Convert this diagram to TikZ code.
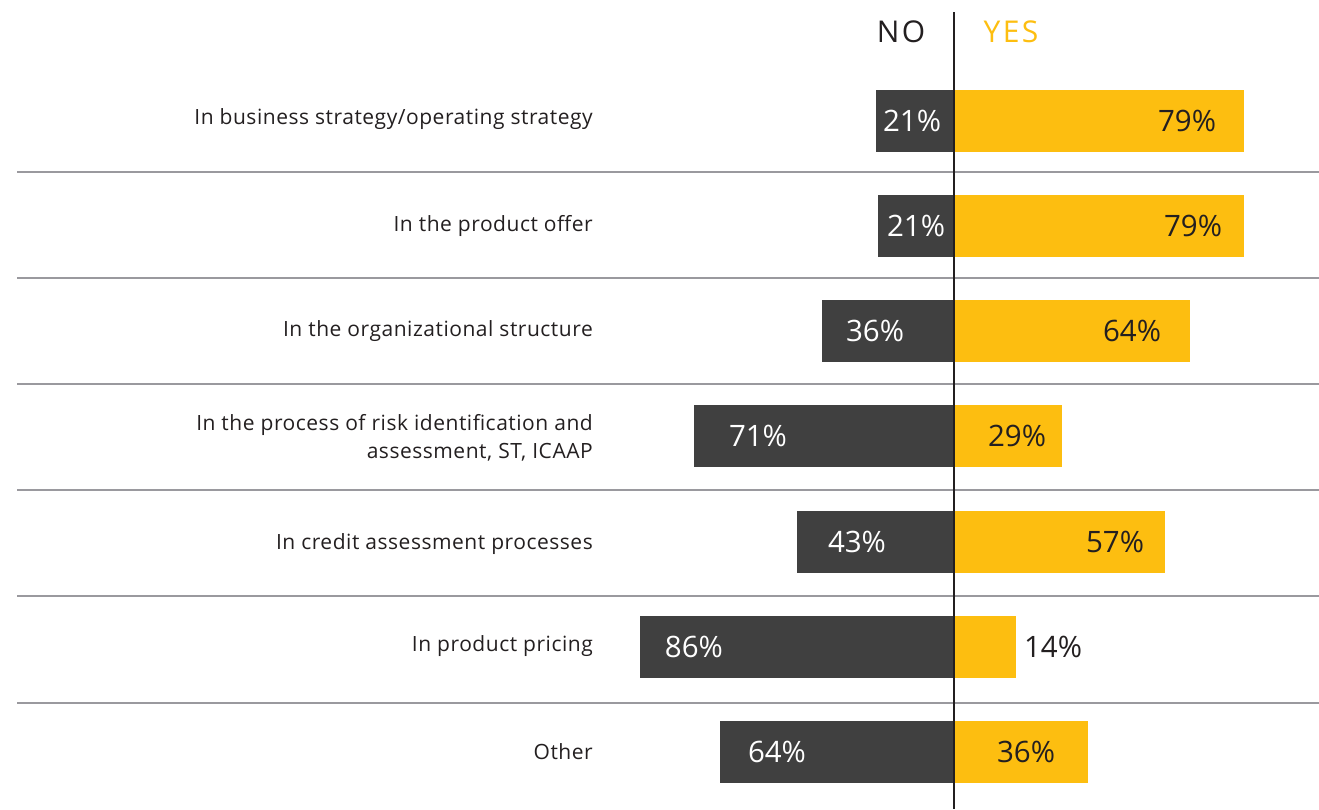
\documentclass[tikz,border=0pt]{standalone}
\usepackage{fontspec}
\setmainfont{Open Sans}
\newfontfamily\labfont[LetterSpace=2.5]{Open Sans}
\newfontfamily\headfont[LetterSpace=8]{Open Sans}
\definecolor{nobar}{HTML}{404040}
\definecolor{yesbar}{HTML}{FDBE10}
\definecolor{sep}{HTML}{9A999E}
\definecolor{ink}{HTML}{231F20}
\begin{document}
\begin{tikzpicture}[x=1pt,y=-1pt,
  seprule/.style={draw=sep,line width=1.6pt},
  nofill/.style={fill=nobar},
  yesfill/.style={fill=yesbar},
  pctw/.style={text=white,font=\fontsize{29.5}{34}\selectfont,inner sep=0pt},
  pctd/.style={text=ink,font=\fontsize{29.5}{34}\selectfont,inner sep=0pt},
  lab/.style={text=ink,font=\labfont\fontsize{21}{28}\selectfont,inner sep=0pt,anchor=east,align=right},
  head/.style={font=\headfont\fontsize{30}{34}\selectfont,inner sep=0pt}]
\useasboundingbox (0,0) rectangle (1319,809);
% separators
\foreach \y in {172,278,384,490,596,703} \draw[seprule] (17,\y) -- (1319,\y);
% bars
\fill[nofill] (876,90) rectangle (954,152);  \fill[yesfill] (954,90) rectangle (1244,152);
\fill[nofill] (878,195) rectangle (954,257); \fill[yesfill] (954,195) rectangle (1244,257);
\fill[nofill] (822,300) rectangle (954,362); \fill[yesfill] (954,300) rectangle (1190,362);
\fill[nofill] (694,405) rectangle (954,467); \fill[yesfill] (954,405) rectangle (1062,467);
\fill[nofill] (797,511) rectangle (954,573); \fill[yesfill] (954,511) rectangle (1165,573);
\fill[nofill] (640,616) rectangle (954,678); \fill[yesfill] (954,616) rectangle (1016,678);
\fill[nofill] (720,721) rectangle (954,783); \fill[yesfill] (954,721) rectangle (1088,783);
% axis
\coordinate (axtop) at (954,12);
\coordinate (axbot) at (954,809);
\draw[ink,line width=2.8pt] (axtop) -- (axbot);
% headers
\node[head,text=ink] (no) at (901,32) {NO};
\node[head,text=yesbar] (yes) at (1011,32) {YES};
% labels
\node[lab] (l1) at (593,119) {In business strategy/operating strategy};
\node[lab] (l2) at (593,226) {In the product offer};
\node[lab] (l3) at (593,331) {In the organizational structure};
\node[lab] (l4) at (593,438) {In the process of risk identification and\\assessment, ST, ICAAP};
\node[lab] (l5) at (593,544) {In credit assessment processes};
\node[lab] (l6) at (593,646) {In product pricing};
\node[lab] (l7) at (593,752) {Other};
% percentages
\node[pctw] (n1) at (912,121) {21\%}; \node[pctd] (y1) at (1187,121) {79\%};
\node[pctw] (n2) at (916,226) {21\%}; \node[pctd] (y2) at (1193,226) {79\%};
\node[pctw] (n3) at (875,331) {36\%}; \node[pctd] (y3) at (1132,331) {64\%};
\node[pctw] (n4) at (758,436) {71\%}; \node[pctd] (y4) at (1017,436) {29\%};
\node[pctw] (n5) at (857,542) {43\%}; \node[pctd] (y5) at (1115,542) {57\%};
\node[pctw] (n6) at (694,647) {86\%}; \node[pctd] (y6) at (1053,647) {14\%};
\node[pctw] (n7) at (777,752) {64\%}; \node[pctd] (y7) at (1026,752) {36\%};
\end{tikzpicture}
\end{document}
